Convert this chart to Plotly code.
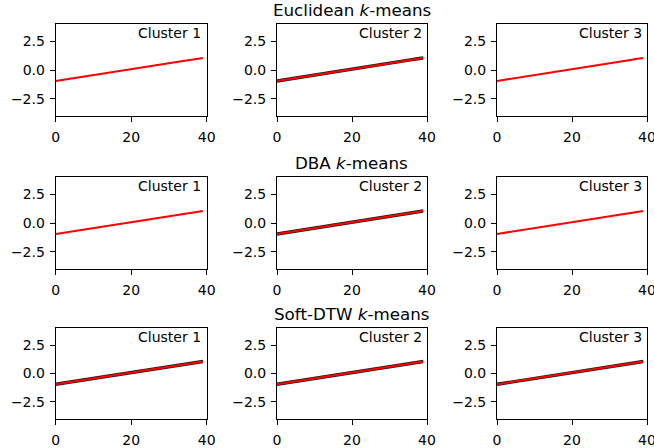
import plotly.graph_objects as go

# ---- data ----
time_idx = list(range(40))
centroid = [-0.95, -0.90, -0.85, -0.80, -0.74, -0.69, -0.64, -0.59, -0.54, -0.49,
            -0.44, -0.39, -0.33, -0.28, -0.23, -0.18, -0.13, -0.08, -0.03, 0.02,
            0.08, 0.13, 0.18, 0.23, 0.28, 0.33, 0.38, 0.43, 0.49, 0.54,
            0.59, 0.64, 0.69, 0.74, 0.79, 0.84, 0.90, 0.95, 1.00, 1.05]
member_upper = [-0.87, -0.82, -0.77, -0.72, -0.66, -0.61, -0.56, -0.51, -0.46, -0.41,
                -0.36, -0.31, -0.25, -0.20, -0.15, -0.10, -0.05, 0.00, 0.05, 0.10,
                0.16, 0.21, 0.26, 0.31, 0.36, 0.41, 0.46, 0.51, 0.57, 0.62,
                0.67, 0.72, 0.77, 0.82, 0.87, 0.92, 0.98, 1.03, 1.08, 1.13]
member_lower = [-1.03, -0.98, -0.93, -0.88, -0.82, -0.77, -0.72, -0.67, -0.62, -0.57,
                -0.52, -0.47, -0.41, -0.36, -0.31, -0.26, -0.21, -0.16, -0.11, -0.06,
                0.00, 0.05, 0.10, 0.15, 0.20, 0.25, 0.30, 0.35, 0.41, 0.46,
                0.51, 0.56, 0.61, 0.66, 0.71, 0.76, 0.82, 0.87, 0.92, 0.97]
methods = ["Euclidean <i>k</i>-means", "DBA <i>k</i>-means", "Soft-DTW <i>k</i>-means"]
cluster_labels = ["Cluster 1", "Cluster 2", "Cluster 3"]
# which (method, cluster) panels show member series
has_members = [[False, True, False], [False, True, False], [True, True, True]]
x_ticks = [0, 20, 40]
y_ticks = [-2.5, 0.0, 2.5]
y_tick_text = ["\u22122.5", "0.0", "2.5"]

W, H = 654, 448
col_px = [(55.7, 206.7), (277, 427), (497, 647)]
row_px = [(24, 116), (177, 269), (328, 419)]

fig = go.Figure()
FONT = "DejaVu Sans"
annotations = []
for r in range(3):
    for c in range(3):
        k = r * 3 + c + 1
        xa = "x" if k == 1 else f"x{k}"
        ya = "y" if k == 1 else f"y{k}"
        if has_members[r][c]:
            for m in (member_upper, member_lower):
                fig.add_trace(go.Scatter(x=time_idx, y=m, mode="lines",
                                         line=dict(color="rgba(0,0,0,0.9)", width=1.6),
                                         xaxis=xa, yaxis=ya, showlegend=False, hoverinfo="skip"))
        fig.add_trace(go.Scatter(x=time_idx, y=centroid, mode="lines",
                                 line=dict(color="red", width=2),
                                 xaxis=xa, yaxis=ya, showlegend=False))
        x0, x1 = col_px[c]
        t, b = row_px[r]
        axis_common = dict(showline=True, mirror=True, linecolor="black", linewidth=1,
                           ticks="outside", ticklen=5, tickwidth=1, tickcolor="black",
                           showgrid=False, zeroline=False, automargin=False,
                           ticklabeloverflow="allow",
                           tickfont=dict(family=FONT, size=14, color="black"))
        fig.layout["xaxis" if k == 1 else f"xaxis{k}"] = dict(
            domain=[x0 / W, x1 / W], range=[0, 40], tickvals=x_ticks,
            ticktext=[str(v) for v in x_ticks], anchor=ya, ticklabelstandoff=3,
            **axis_common)
        fig.layout["yaxis" if k == 1 else f"yaxis{k}"] = dict(
            domain=[1 - b / H, 1 - t / H], range=[-4, 4], tickvals=y_ticks,
            ticktext=y_tick_text, anchor=xa, ticklabelstandoff=2, **axis_common)
        annotations.append(dict(text=cluster_labels[c], xref=f"{xa} domain", yref=f"{ya} domain",
                                x=0.535, y=0.79, xanchor="left", yanchor="bottom", showarrow=False,
                                font=dict(family=FONT, size=14, color="black")))
    annotations.append(dict(text=methods[r], xref="paper", yref="paper",
                            x=((col_px[1][0] + col_px[1][1]) / 2) / W,
                            y=1 - (row_px[r][0] - 14) / H, xanchor="center", yanchor="middle",
                            showarrow=False, font=dict(family=FONT, size=16.7, color="black")))

fig.update_layout(width=W, height=H, margin=dict(l=0, r=0, t=0, b=0),
                  paper_bgcolor="white", plot_bgcolor="white",
                  annotations=annotations, showlegend=False)
fig.write_html("out.html", config={"displayModeBar": False},
               post_script="document.body.style.margin='0px';document.body.style.overflow='hidden';")
